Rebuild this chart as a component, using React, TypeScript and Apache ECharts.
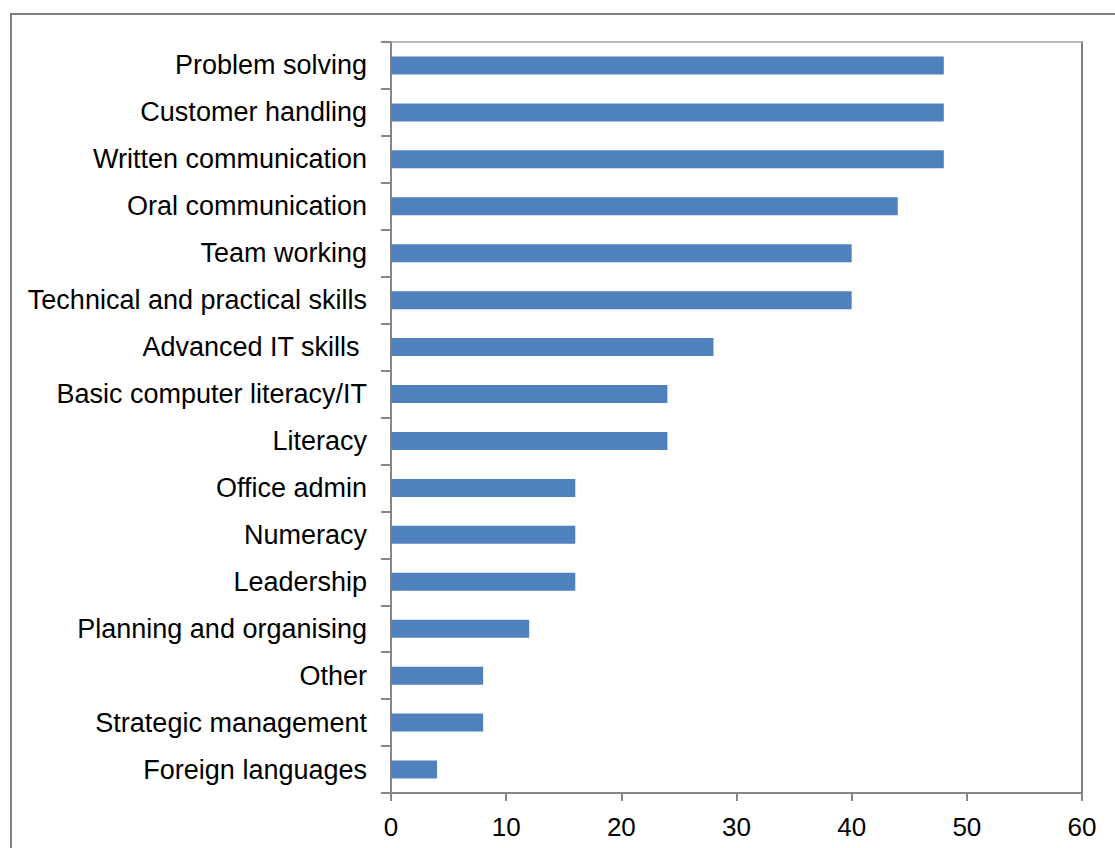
import React, { useEffect, useRef } from "react";
import * as echarts from "echarts";

const categories = [
  "Problem solving",
  "Customer handling",
  "Written communication",
  "Oral communication",
  "Team working",
  "Technical and practical skills",
  "Advanced IT skills ",
  "Basic computer literacy/IT",
  "Literacy",
  "Office admin",
  "Numeracy",
  "Leadership",
  "Planning and organising",
  "Other",
  "Strategic management",
  "Foreign languages",
];
const values = [48, 48, 48, 44, 40, 40, 28, 24, 24, 16, 16, 16, 12, 8, 8, 4];
const xMin = 0;
const xMax = 60;
const xInterval = 10;

const FONT = "'Liberation Sans', Arial, sans-serif";

export default function App() {
  const ref = useRef<HTMLDivElement>(null);
  useEffect(() => {
    document.body.style.margin = "0";
    const chart = echarts.init(ref.current!, null, { renderer: "svg" });
    chart.setOption({
      animation: false,
      backgroundColor: "#ffffff",
      textStyle: { fontFamily: FONT },
      graphic: [
        {
          type: "rect",
          shape: { x: 11, y: 14, width: 1300, height: 1000 },
          style: { fill: "none", stroke: "#808080", lineWidth: 2 },
          silent: true,
        },
      ],
      grid: { left: 391, top: 42, right: 33, bottom: 55, containLabel: false },
      xAxis: [
        {
          type: "value",
          min: xMin,
          max: xMax,
          interval: xInterval,
          position: "bottom",
          splitLine: { show: false },
          axisLine: { show: true, onZero: false, lineStyle: { color: "#868686", width: 2 } },
          axisTick: { show: true, length: 8, lineStyle: { color: "#868686", width: 2 } },
          axisLabel: { color: "#000", fontSize: 26, fontFamily: FONT, margin: 21 },
        },
        {
          type: "value",
          min: xMin,
          max: xMax,
          position: "top",
          splitLine: { show: false },
          axisLine: { show: true, onZero: false, lineStyle: { color: "#a6a6a6", width: 1.5 } },
          axisTick: { show: false },
          axisLabel: { show: false },
        },
      ],
      yAxis: [
        {
          type: "category",
          data: categories,
          inverse: true,
          position: "left",
          axisLine: { show: true, onZero: false, lineStyle: { color: "#868686", width: 2 } },
          axisTick: { show: true, length: 10, lineStyle: { color: "#868686", width: 2 } },
          axisLabel: { color: "#000", fontSize: 27, fontFamily: FONT, margin: 24 },
        },
        {
          type: "category",
          data: categories,
          inverse: true,
          position: "right",
          axisLine: { show: true, onZero: false, lineStyle: { color: "#808080", width: 2 } },
          axisTick: { show: false },
          axisLabel: { show: false },
        },
      ],
      series: [
        {
          type: "bar",
          data: values,
          xAxisIndex: 0,
          yAxisIndex: 0,
          barWidth: 18,
          itemStyle: { color: "#4F81BD" },
        },
      ],
    });
    return () => chart.dispose();
  }, []);
  return <div ref={ref} style={{ width: 1115, height: 848 }} />;
}
